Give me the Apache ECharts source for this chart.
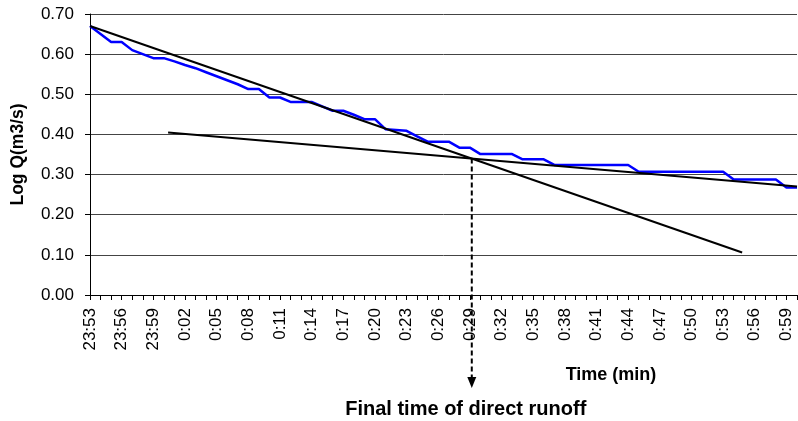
<!DOCTYPE html>
<html>
<head>
<meta charset="utf-8">
<script src="https://cdn.jsdelivr.net/npm/echarts@6/dist/echarts.min.js"></script>
<style>
  html, body { margin: 0; padding: 0; background: #fff; }
  #chart { width: 798px; height: 421px; }
</style>
</head>
<body>
<div id="chart"></div>
<script>
// Minute-by-minute time stamps of the recession limb
const times = [
  '23:53','23:54','23:55','23:56','23:57','23:58','23:59',
  '0:00','0:01','0:02','0:03','0:04','0:05','0:06','0:07','0:08','0:09',
  '0:10','0:11','0:12','0:13','0:14','0:15','0:16','0:17','0:18','0:19',
  '0:20','0:21','0:22','0:23','0:24','0:25','0:26','0:27','0:28','0:29',
  '0:30','0:31','0:32','0:33','0:34','0:35','0:36','0:37','0:38','0:39',
  '0:40','0:41','0:42','0:43','0:44','0:45','0:46','0:47','0:48','0:49',
  '0:50','0:51','0:52','0:53','0:54','0:55','0:56','0:57','0:58','0:59',
  '1:00'
];

// Log of observed discharge, one value per minute
const logQ = [
  0.670, 0.650, 0.630, 0.630, 0.610, 0.600, 0.590, 0.590, 0.582, 0.573,
  0.565, 0.555, 0.545, 0.535, 0.525, 0.513, 0.513, 0.492, 0.492, 0.481,
  0.481, 0.481, 0.470, 0.459, 0.459, 0.449, 0.438, 0.438, 0.413, 0.411,
  0.409, 0.395, 0.382, 0.382, 0.382, 0.367, 0.367, 0.351, 0.351, 0.351,
  0.351, 0.338, 0.338, 0.338, 0.324, 0.324, 0.324, 0.324, 0.324, 0.324,
  0.324, 0.324, 0.307, 0.307, 0.307, 0.307, 0.307, 0.307, 0.307, 0.307,
  0.307, 0.288, 0.288, 0.288, 0.288, 0.288, 0.268, 0.268
];

// Straight recession lines as [minute index, log Q] end points
const directRunoffLine = [[0, 0.670], [61.8, 0.106]];
const baseflowLine = [[7.4, 0.405], [67, 0.270]];

// Vertical axis ticks
const yMin = 0, yMax = 0.7, yStep = 0.1;

const FONT = '"Liberation Sans", Arial, Helvetica, sans-serif';

// Where the two recession lines meet
function crossing(a, b) {
  const sa = (a[1][1] - a[0][1]) / (a[1][0] - a[0][0]);
  const sb = (b[1][1] - b[0][1]) / (b[1][0] - b[0][0]);
  const x = (b[0][1] - sb * b[0][0] - a[0][1] + sa * a[0][0]) / (sa - sb);
  return [x, a[0][1] + sa * (x - a[0][0])];
}

const chart = echarts.init(document.getElementById('chart'), null, { renderer: 'canvas' });

chart.setOption({
  animation: false,
  backgroundColor: '#fff',
  grid: { left: 90, right: 1, top: 14, bottom: 126, containLabel: false },
  xAxis: {
    type: 'value',
    min: 0,
    max: times.length - 1,
    interval: 1,
    axisLine: { show: true, onZero: false, lineStyle: { color: '#000', width: 1 } },
    axisTick: { show: true, length: 5, lineStyle: { color: '#000', width: 1 } },
    splitLine: { show: false },
    axisLabel: {
      rotate: 90,
      margin: 13,
      color: '#000',
      fontFamily: FONT,
      fontSize: 17,
      showMinLabel: true,
      showMaxLabel: true,
      formatter: function (v) { return v % 3 === 0 ? times[v] : ''; }
    }
  },
  yAxis: {
    type: 'value',
    min: yMin,
    max: yMax,
    interval: yStep,
    name: 'Log Q(m3/s)',
    nameLocation: 'middle',
    nameGap: 63,
    nameTextStyle: { color: '#000', fontFamily: FONT, fontSize: 17.5, fontWeight: 'bold' },
    axisLine: { show: true, lineStyle: { color: '#000', width: 1 } },
    axisTick: { show: true, length: 5, lineStyle: { color: '#000', width: 1 } },
    splitLine: { show: true, lineStyle: { color: '#444', width: 1 } },
    axisLabel: {
      margin: 16,
      color: '#000',
      fontFamily: FONT,
      fontSize: 17,
      formatter: function (v) { return v.toFixed(2); }
    }
  },
  series: [
    {
      name: 'Log Q',
      type: 'line',
      data: logQ.map(function (v, i) { return [i, v]; }),
      symbol: 'none',
      clip: false,
      z: 3,
      lineStyle: { color: '#0000ff', width: 2.5 }
    },
    {
      name: 'Direct runoff recession',
      type: 'line',
      data: directRunoffLine,
      symbol: 'none',
      clip: false,
      z: 4,
      lineStyle: { color: '#000', width: 2 }
    },
    {
      name: 'Baseflow recession',
      type: 'line',
      data: baseflowLine,
      symbol: 'none',
      clip: false,
      z: 4,
      lineStyle: { color: '#000', width: 2 }
    }
  ]
});

// Arrow from the intersection down to the annotation, plus axis title
const meet = crossing(directRunoffLine, baseflowLine);
const meetPx = chart.convertToPixel({ gridIndex: 0 }, meet);
const axisPx = chart.convertToPixel({ gridIndex: 0 }, [meet[0], yMin]);
const ax = meetPx[0];
const ay = axisPx[1];

chart.setOption({
  graphic: [
    {
      type: 'line',
      z: 10,
      shape: { x1: ax, y1: meetPx[1], x2: ax, y2: ay + 84 },
      style: { stroke: '#000', lineWidth: 2, lineDash: [5, 3] }
    },
    {
      type: 'polygon',
      z: 10,
      shape: { points: [[ax - 4.5, ay + 82], [ax + 4.5, ay + 82], [ax, ay + 93]] },
      style: { fill: '#000' }
    },
    {
      type: 'text',
      z: 10,
      x: ax - 6,
      y: ay + 114,
      style: {
        text: 'Final time of direct runoff',
        fill: '#000',
        fontFamily: FONT,
        fontSize: 20,
        fontWeight: 'bold',
        align: 'center',
        verticalAlign: 'middle'
      }
    },
    {
      type: 'text',
      z: 10,
      x: 611,
      y: ay + 80,
      style: {
        text: 'Time (min)',
        fill: '#000',
        fontFamily: FONT,
        fontSize: 18,
        fontWeight: 'bold',
        align: 'center',
        verticalAlign: 'middle'
      }
    }
  ]
});
</script>
</body>
</html>
